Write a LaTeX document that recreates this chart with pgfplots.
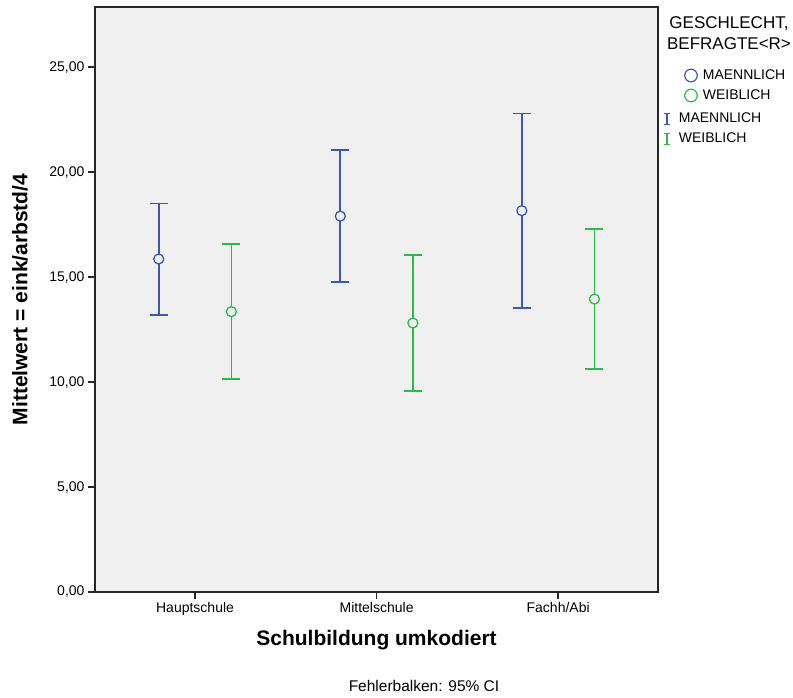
\documentclass[border=0pt]{standalone}
\usepackage{pgfplots}
\usepackage{pgfplotstable}
\pgfplotsset{compat=1.18}
\usepackage{fontspec}
\setmainfont{Liberation Sans}
\definecolor{mblue}{RGB}{62,88,172}
\definecolor{fgreen}{RGB}{46,184,72}
\definecolor{bgc}{RGB}{240,240,240}

\pgfplotstableread{
x m lo hi
-0.2 15.86 13.19 18.51
0.8 17.90 14.75 21.06
1.8 18.16 13.52 22.79
}\male
\pgfplotstableread{
x m lo hi
0.2 13.35 10.14 16.57
1.2 12.81 9.56 16.06
2.2 13.95 10.62 17.29
}\female

\begin{document}
\begin{tikzpicture}
\useasboundingbox (-95pt,-105pt) rectangle (698pt,592pt);
\begin{axis}[
 scale only axis, width=563pt, height=585pt,
 xmin=-0.551, xmax=2.55, ymin=0, ymax=27.86,
 axis background/.style={fill=bgc},
 axis line style={line width=1.5pt, black!85},
 xtick={0,1,2}, xticklabels={Hauptschule,Mittelschule,Fachh/Abi},
 ytick={0,5,...,25},
 tick pos=left,
 tick align=outside, major tick length=7pt,
 tick style={black!85, line width=1.5pt},
 yticklabel style={/pgf/number format/.cd, fixed, fixed zerofill, precision=2, use comma, assume math mode=true},
 tick label style={font=\fontsize{14}{16}\selectfont},
 xlabel={Schulbildung umkodiert}, ylabel={Mittelwert = eink/arbstd/4},
 label style={font=\bfseries\fontsize{21}{24}\selectfont},
 xlabel style={at={(axis description cs:0.5,-0.0821)}, anchor=center},
 ylabel style={at={(axis description cs:-0.1332,0.5)}, anchor=center},
 legend cell align=left,
 legend style={at={(axis description cs:1,1)}, anchor=north west, xshift=2pt, yshift=-61pt,
   draw=none, fill=none, inner sep=0pt, outer sep=0pt,
   font=\fontsize{14}{16}\selectfont, row sep=5pt, column sep=4pt,
   nodes={inner sep=1pt, text height=10pt, text depth=3pt}},
 error bars/error bar style={line width=1.6pt},
 error bars/error mark options={rotate=90, mark size=9pt, line width=1.6pt},
]
\addplot[mblue, only marks, mark=*, mark size=5pt, line width=1.3pt, mark options={fill=bgc, draw=mblue, line width=1.3pt},
  legend image code/.code={\path[draw=none, fill=none] (0pt,-6pt) rectangle (36pt,6pt); \draw[mblue, line width=1.2pt, fill=none] (31pt,0pt) circle (6.3pt);},
  error bars/.cd, y dir=both, y explicit]
 table[x=x, y=m, y error plus expr=\thisrow{hi}-\thisrow{m}, y error minus expr=\thisrow{m}-\thisrow{lo}] {\male};
\addlegendentry{MAENNLICH}
\addplot[fgreen, only marks, mark=*, mark size=5pt, line width=1.3pt, mark options={fill=bgc, draw=fgreen, line width=1.3pt},
  legend image code/.code={\path[draw=none, fill=none] (0pt,-6pt) rectangle (36pt,6pt); \draw[fgreen, line width=1.2pt, fill=none] (31pt,0pt) circle (6.3pt);},
  error bars/.cd, y dir=both, y explicit]
 table[x=x, y=m, y error plus expr=\thisrow{hi}-\thisrow{m}, y error minus expr=\thisrow{m}-\thisrow{lo}] {\female};
\addlegendentry{WEIBLICH}
\addlegendimage{legend image code/.code={\path[draw=none, fill=none] (0pt,-6pt) rectangle (36pt,11pt); \draw[mblue, line width=1.3pt, fill=none] (7pt,-5.5pt)--(7pt,5.5pt) (4pt,5.5pt)--(10pt,5.5pt) (4pt,-5.5pt)--(10pt,-5.5pt);}}
\addlegendentry{\hspace*{-24pt}MAENNLICH}
\addlegendimage{legend image code/.code={\path[draw=none, fill=none] (0pt,-6pt) rectangle (36pt,6pt); \draw[fgreen, line width=1.3pt, fill=none] (7pt,-5.5pt)--(7pt,5.5pt) (4pt,5.5pt)--(10pt,5.5pt) (4pt,-5.5pt)--(10pt,-5.5pt);}}
\addlegendentry{\hspace*{-24pt}WEIBLICH}
\end{axis}
\node[align=center, font=\fontsize{17}{21}\selectfont] at (634pt,559pt) {GESCHLECHT,\\BEFRAGTE<R>};
\node[font=\fontsize{15.5}{18}\selectfont] at (329pt,-94pt) {Fehlerbalken: 95\% CI};
\end{tikzpicture}
\end{document}
